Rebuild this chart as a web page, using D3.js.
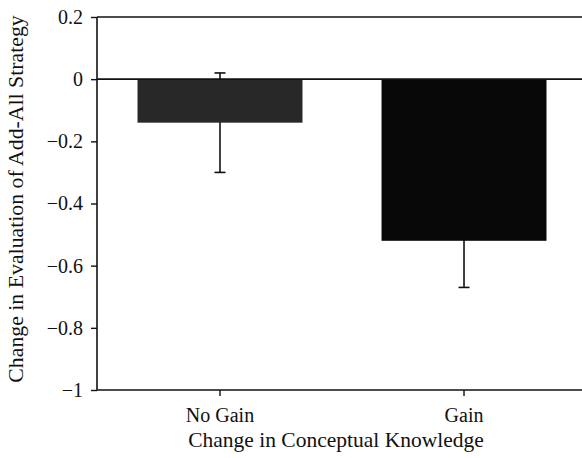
<!DOCTYPE html>
<html>
<head>
<meta charset="utf-8">
<script src="https://cdn.jsdelivr.net/npm/d3@7"></script>
<style>
  html, body { margin: 0; padding: 0; background: #fff; }
  svg { display: block; }
</style>
</head>
<body>
<svg id="chart" width="582" height="458"></svg>
<script>
const categories = ["No Gain", "Gain"];
const means = [-0.14, -0.52];
const errors = [0.16, 0.15];
const yTicks = [0.2, 0, -0.2, -0.4, -0.6, -0.8, -1];
const xTitle = "Change in Conceptual Knowledge";
const yTitle = "Change in Evaluation of Add-All Strategy";
const barColors = ["#282828", "#080808"];

const mLeft = 97, mTop = 17, mBottom = 390, mRight = 582;
const FONT = '"Liberation Serif"';

const svg = d3.select("#chart");

const y = d3.scaleLinear().domain([-1, 0.2]).range([mBottom, mTop]);
const x = d3.scaleBand().domain(categories).range([mLeft, 587])
  .paddingInner(0.324).paddingOuter(0.166);

const fmt = d => {
  const v = +d.toFixed(1);
  if (v === 0) return "0";
  return (v < 0 ? "\u2212" : "") + String(Math.abs(v));
};

// error bars (drawn behind the bars)
const eb = svg.append("g").attr("stroke", "#111").attr("stroke-width", 1.6);
categories.forEach((c, i) => {
  const cx = x(c) + x.bandwidth() / 2;
  const hi = means[i] + errors[i], lo = means[i] - errors[i];
  eb.append("line").attr("x1", cx).attr("x2", cx).attr("y1", y(hi)).attr("y2", y(lo));
  eb.append("line").attr("x1", cx - 5.5).attr("x2", cx + 5.5).attr("y1", y(hi)).attr("y2", y(hi));
  eb.append("line").attr("x1", cx - 5.5).attr("x2", cx + 5.5).attr("y1", y(lo)).attr("y2", y(lo));
});

// bars
svg.append("g").selectAll("rect").data(categories).join("rect")
  .attr("x", d => x(d))
  .attr("width", x.bandwidth())
  .attr("y", (d, i) => y(Math.max(0, means[i])))
  .attr("height", (d, i) => Math.abs(y(means[i]) - y(0)))
  .attr("fill", (d, i) => barColors[i]);

// frame lines: top, zero, bottom extend to right edge
const lines = svg.append("g").attr("stroke", "#111").attr("stroke-width", 1.6);
[0.2, 0, -1].forEach(v => {
  lines.append("line").attr("x1", mLeft).attr("x2", mRight).attr("y1", y(v)).attr("y2", y(v));
});

// y axis
const yAxis = svg.append("g").attr("transform", `translate(${mLeft},0)`)
  .call(d3.axisLeft(y).tickValues(yTicks).tickFormat(fmt).tickSize(6).tickPadding(8));
yAxis.attr("font-family", FONT).attr("font-size", 20);
yAxis.select(".domain").attr("stroke", "#111").attr("stroke-width", 1.6).attr("d", `M0,${mTop}V${mBottom}`);
yAxis.selectAll(".tick line").attr("stroke", "#111").attr("stroke-width", 1.4);
yAxis.selectAll(".tick text").attr("fill", "#111");

// x axis
const xAxis = svg.append("g").attr("transform", `translate(0,${mBottom})`)
  .call(d3.axisBottom(x).tickSize(6).tickPadding(12));
xAxis.attr("font-family", FONT).attr("font-size", 20);
xAxis.select(".domain").remove();
xAxis.selectAll(".tick line").attr("stroke", "#111").attr("stroke-width", 1.4);
xAxis.selectAll(".tick text").attr("fill", "#111");

// titles
svg.append("text").attr("x", 336).attr("y", 447).attr("text-anchor", "middle")
  .attr("font-family", FONT).attr("font-size", 21.5).attr("fill", "#111").text(xTitle);
svg.append("text").attr("transform", "translate(23,199) rotate(-90)").attr("text-anchor", "middle")
  .attr("font-family", FONT).attr("font-size", 21.8).attr("fill", "#111").text(yTitle);
</script>
</body>
</html>
